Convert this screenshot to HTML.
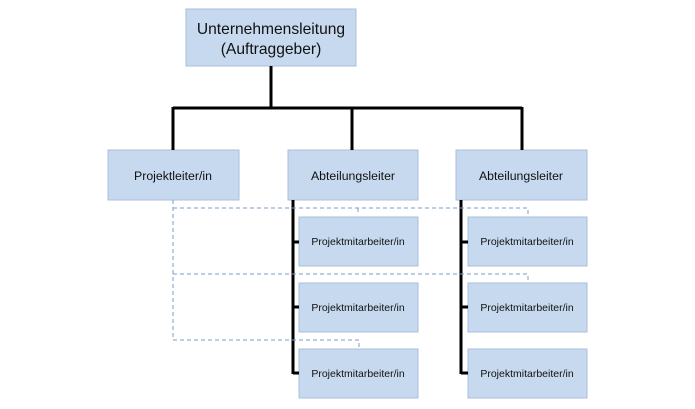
<!DOCTYPE html>
<html><head><style>
body{margin:0;width:695px;height:404px;background:#fff;overflow:hidden}
</style></head><body>
<svg width="695" height="404" xmlns="http://www.w3.org/2000/svg" font-family="Liberation Sans, sans-serif">
<g fill="#c6d9ee" stroke="#a9bfdc" stroke-width="1">
<rect x="186" y="9" width="170" height="57"/>
<rect x="108" y="150" width="131" height="50"/>
<rect x="288" y="150" width="130" height="50"/>
<rect x="456" y="150" width="131" height="50"/>
<rect x="299" y="217" width="119" height="49"/>
<rect x="299" y="283" width="119" height="49"/>
<rect x="299" y="349" width="119" height="49"/>
<rect x="468" y="217" width="119" height="49"/>
<rect x="468" y="283" width="119" height="49"/>
<rect x="468" y="349" width="119" height="49"/>
</g>
<g stroke="#000" stroke-width="3" fill="none">
<path d="M271 66V108M173 108H522M173 107V150M352 107V150M522 107V150"/>
<path d="M293 200V374M293 242H299M293 307H299M293 373H299"/>
<path d="M461 200V374M461 242H468M461 307H468M461 373H468"/>
</g>
<g stroke="#7a9cc8" stroke-width="1" stroke-dasharray="4,3" fill="none">
<path d="M173 200V340H359V348"/>
<path d="M173 208H528V216M358 208V213"/>
<path d="M173 274H528V282"/>
</g>
<g fill="#111" text-anchor="middle">
<text x="271" y="34" font-size="15.6">Unternehmensleitung</text>
<text x="271" y="54" font-size="15.6">(Auftraggeber)</text>
<text x="173" y="180" font-size="12.3">Projektleiter/in</text>
<text x="353" y="180" font-size="12.3">Abteilungsleiter</text>
<text x="521" y="180" font-size="12.3">Abteilungsleiter</text>
<g font-size="10.5">
<text x="358" y="245">Projektmitarbeiter/in</text>
<text x="358" y="311">Projektmitarbeiter/in</text>
<text x="358" y="377">Projektmitarbeiter/in</text>
<text x="527" y="245">Projektmitarbeiter/in</text>
<text x="527" y="311">Projektmitarbeiter/in</text>
<text x="527" y="377">Projektmitarbeiter/in</text>
</g>
</g>
</svg>
</body></html>
